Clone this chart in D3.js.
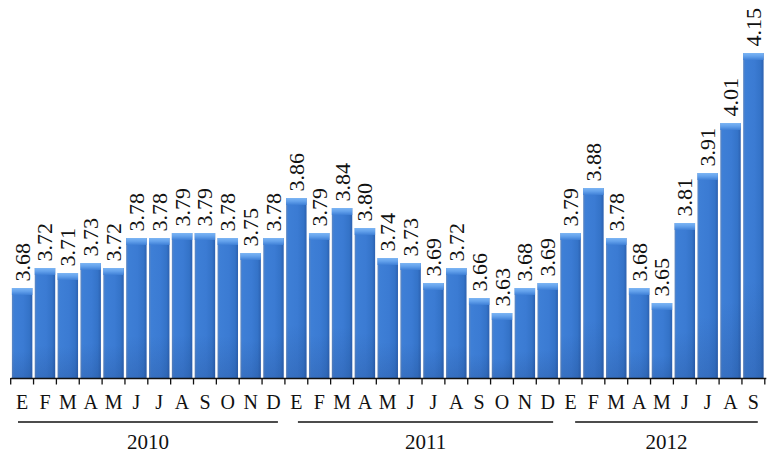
<!DOCTYPE html>
<html>
<head>
<meta charset="utf-8">
<script src="https://cdn.jsdelivr.net/npm/d3@7"></script>
<style>
  html, body { margin: 0; padding: 0; background: #fff; }
  svg { display: block; }
  text { font-family: "Liberation Serif", "Times New Roman", serif; fill: #111; }
</style>
</head>
<body>
<svg id="chart" width="768" height="458"></svg>
<script>
// Monthly values, Jan 2010 – Sep 2012
const values2010 = [3.68, 3.72, 3.71, 3.73, 3.72, 3.78, 3.78, 3.79, 3.79, 3.78, 3.75, 3.78];
const values2011 = [3.86, 3.79, 3.84, 3.80, 3.74, 3.73, 3.69, 3.72, 3.66, 3.63, 3.68, 3.69];
const values2012 = [3.79, 3.88, 3.78, 3.68, 3.65, 3.81, 3.91, 4.01, 4.15];
const monthLetters = ["E", "F", "M", "A", "M", "J", "J", "A", "S", "O", "N", "D"];
const years = ["2010", "2011", "2012"];

const FONT = "Liberation Serif";
const series = [values2010, values2011, values2012];
const data = [];
series.forEach((vals, yi) => vals.forEach((v, mi) => data.push({
  idx: data.length, year: years[yi], month: monthLetters[mi], value: v
})));

const svg = d3.select("#chart");
const baseY = 378;

const x = d3.scaleBand()
  .domain(data.map(d => d.idx))
  .range([10.7, 764.8])
  .padding(0);

const y = d3.scaleLinear()
  .domain([3.5, 4.15])
  .range([baseY, 53]);

// Gradients for the bar bodies and their lighter top caps
const defs = svg.append("defs");
const body = defs.append("linearGradient").attr("id", "barBody")
  .attr("x1", 0).attr("x2", 1).attr("y1", 0).attr("y2", 0);
[[0, "#6188c0"], [0.1, "#3e7fd6"], [0.55, "#3b7bd3"], [0.85, "#3473c8"], [1, "#2c61b0"]]
  .forEach(([o, c]) => body.append("stop").attr("offset", o).attr("stop-color", c));
const shade = defs.append("linearGradient").attr("id", "barShade")
  .attr("x1", 0).attr("x2", 0).attr("y1", 0).attr("y2", 1);
[[0, "rgb(20,40,90)", 0], [0.7, "rgb(20,40,90)", 0], [1, "rgb(20,40,90)", 0.16]]
  .forEach(([o, c, a]) => shade.append("stop").attr("offset", o).attr("stop-color", c).attr("stop-opacity", a));
const cap = defs.append("linearGradient").attr("id", "barCap")
  .attr("x1", 0).attr("x2", 0).attr("y1", 0).attr("y2", 1);
[[0, "#7cb5f4"], [0.45, "#64a2ec"], [1, "#3e7fd6"]]
  .forEach(([o, c]) => cap.append("stop").attr("offset", o).attr("stop-color", c));

const bars = svg.append("g").selectAll("g").data(data).join("g");
const bw = x.bandwidth();

bars.append("rect")
  .attr("x", d => x(d.idx) + 1.2)
  .attr("y", d => y(d.value))
  .attr("width", bw - 2.4)
  .attr("height", d => baseY - y(d.value))
  .attr("fill", "url(#barBody)");
bars.append("rect")
  .attr("x", d => x(d.idx) + 1.2)
  .attr("y", d => y(d.value))
  .attr("width", bw - 2.4)
  .attr("height", d => baseY - y(d.value))
  .attr("fill", "url(#barShade)");
bars.append("rect")
  .attr("x", d => x(d.idx) + 1.2)
  .attr("y", d => y(d.value))
  .attr("width", bw - 2.4)
  .attr("height", 7)
  .attr("fill", "url(#barCap)");

// Value labels, rotated above each bar
bars.append("text")
  .attr("transform", d => `translate(${x(d.idx) + bw / 2 + 7.5},${y(d.value) - 6.5}) rotate(-90)`)
  .attr("text-anchor", "start")
  .attr("font-family", FONT)
  .style("font-size", "22px")
  .text(d => d.value.toFixed(2));

// Month letters under each bar
const axis = d3.axisBottom(x).tickSize(0).tickFormat(d => data[d].month).tickPadding(0);
const axisG = svg.append("g").attr("transform", `translate(0,${baseY})`).call(axis);
axisG.attr("font-family", FONT);
axisG.select(".domain").remove();
axisG.selectAll(".tick line").remove();
axisG.selectAll(".tick text")
  .attr("y", 31)
  .attr("dy", 0)
  .style("font-size", "20px")
  .attr("fill", "#111");

// Axis line with ticks at band edges
const edges = data.map(d => x(d.idx)).concat([x(data.length - 1) + bw]);
svg.append("line")
  .attr("x1", edges[0]).attr("x2", edges[edges.length - 1] + 1.5)
  .attr("y1", baseY + 0.5).attr("y2", baseY + 0.5)
  .attr("stroke", "#111").attr("stroke-width", 1.6);
svg.append("g").selectAll("line").data(edges).join("line")
  .attr("x1", d => d).attr("x2", d => d)
  .attr("y1", baseY).attr("y2", baseY + 6.5)
  .attr("stroke", "#111").attr("stroke-width", 1.3);

// Year groups: underline and caption
const groupInsets = [[7.3, 7], [13, 6], [16, 7]];
let start = 0;
series.forEach((vals, gi) => {
  const x0 = x(start) + groupInsets[gi][0];
  const x1 = x(start + vals.length - 1) + bw - groupInsets[gi][1];
  svg.append("line")
    .attr("x1", x0).attr("x2", x1)
    .attr("y1", 422).attr("y2", 422)
    .attr("stroke", "#111").attr("stroke-width", 1.6);
  svg.append("text")
    .attr("x", (x0 + x1) / 2).attr("y", 449)
    .attr("text-anchor", "middle")
    .attr("font-family", FONT)
    .style("font-size", "21px")
    .text(years[gi]);
  start += vals.length;
});
</script>
</body>
</html>
